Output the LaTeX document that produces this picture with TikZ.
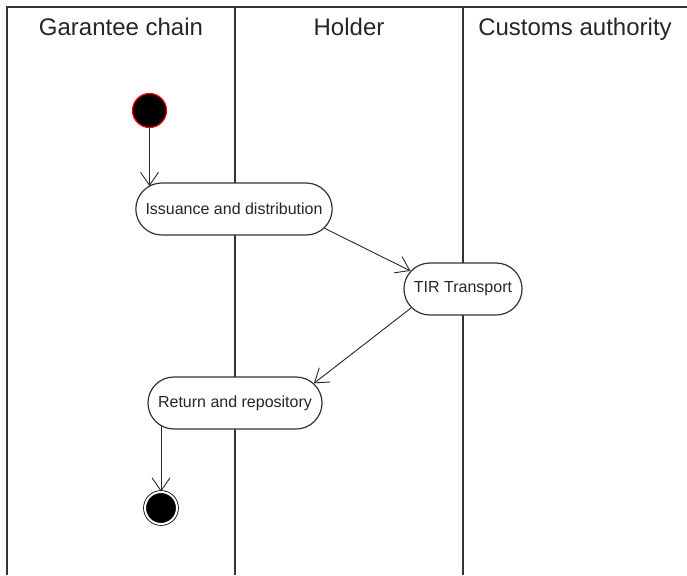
\documentclass[tikz,border=0pt]{standalone}
\usepackage{fontspec}
\setmainfont{Liberation Sans}
\usetikzlibrary{arrows.meta,shapes.misc}
\begin{document}
\begin{tikzpicture}[x=1pt, y=-1pt, lane_style/.style={draw=black!80, line width=1.8pt}, title_style/.style={anchor=base, font=\fontsize{24}{28}\selectfont, text=black!85}, action_style/.style={rounded rectangle, draw=black!80, line width=1.2pt, fill=white, minimum height=52pt, inner xsep=9pt, font=\fontsize{16}{19}\selectfont, text=black!85}, start_style/.style={circle, draw=red, fill=black, line width=1.2pt, minimum size=34pt, inner sep=0pt}, final_style/.style={circle, draw=black, fill=black, double=white, double distance=2pt, line width=0.8pt, minimum size=32pt, inner sep=0pt}, edge_style/.style={draw=black!85, line width=0.9pt, -{Straight Barb[length=13pt, width=18pt]}}]
      \useasboundingbox (0,0) rectangle (687,575);
      \draw[lane_style] (7,575) -- (7,7) -- (687,7);
      \draw[lane_style] (235,7) -- (235,575);
      \draw[lane_style] (463,7) -- (463,575);
      \draw
        (121,36) node[title_style] (garantee){Garantee chain}
        (349,36) node[title_style] (holder){Holder}
        (575,36) node[title_style] (customs){Customs authority}
        (149.5,110.5) node[start_style] (start){}
        (234,209) node[action_style] (issuance){Issuance and distribution}
        (463,289) node[action_style] (transport){TIR Transport}
        (235,403) node[action_style] (return){Return and repository}
        (161,508) node[final_style] (final){};
      \begin{scope}
        \draw[edge_style] (start) -- (start |- issuance.165);
        \draw[edge_style] (issuance.-12) -- (transport.161);
        \draw[edge_style] (transport.200) -- (return.14);
        \draw[edge_style] (final |- return.197) -- (final);
      \end{scope}
    \end{tikzpicture}
\end{document}
